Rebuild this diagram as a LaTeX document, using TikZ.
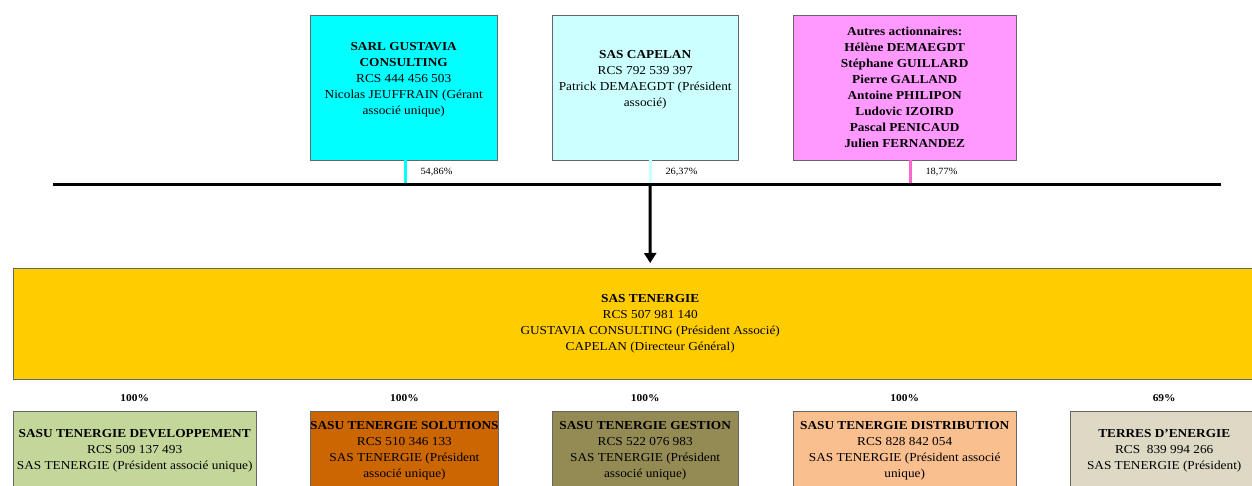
\documentclass[tikz,border=0pt]{standalone}
\usepackage{fontspec}
\setmainfont[FakeStretch=1.09]{Liberation Serif}
\usetikzlibrary{positioning,arrows.meta}
\definecolor{gustaviacyan}{HTML}{00FFFF}
\definecolor{capelanblue}{HTML}{CCFFFF}
\definecolor{autrespink}{HTML}{FF99FF}
\definecolor{autresstub}{HTML}{FF66CC}
\definecolor{tenergieyellow}{HTML}{FFCC00}
\definecolor{devgreen}{HTML}{C4D79B}
\definecolor{solorange}{HTML}{CC6600}
\definecolor{gestolive}{HTML}{948A54}
\definecolor{distpeach}{HTML}{FABF8F}
\definecolor{terresbeige}{HTML}{DDD9C4}

\begin{document}
\begin{tikzpicture}[x=1pt,y=-1pt,
  holder/.style={draw=black!60,anchor=north west,inner sep=0pt,align=center,
    font=\fontsize{12.2}{16}\selectfont},
  boxtext/.style={align=center,font=\fontsize{12.2}{16}\selectfont},
  stub/.style={line width=3pt},
  pct/.style={anchor=west,font=\fontsize{9.5}{10}\selectfont},
  subpct/.style={font=\bfseries\fontsize{10.5}{11}\selectfont}]
  \clip (0,0) rectangle (1252,486);

  \node[holder,fill=gustaviacyan,minimum width=187pt,minimum height=145pt] (gustavia) at (310,15) {};
  \node[boxtext] (gustaviatxt) at ([yshift=8pt]gustavia.center)
    {\textbf{SARL GUSTAVIA}\\\textbf{CONSULTING}\\RCS 444 456 503\\Nicolas JEUFFRAIN (Gérant\\associé unique)};
  \node[holder,fill=capelanblue,minimum width=186pt,minimum height=145pt] (capelan) at (552,15) {};
  \node[boxtext] (capelantxt) at ([yshift=8pt]capelan.center)
    {\textbf{SAS CAPELAN}\\RCS 792 539 397\\Patrick DEMAEGDT (Président\\associé)};
  \node[holder,fill=autrespink,minimum width=223pt,minimum height=145pt,font=\bfseries\fontsize{12.2}{16}\selectfont] (autres) at (793,15)
    {Autres actionnaires:\\Hélène DEMAEGDT\\Stéphane GUILLARD\\Pierre GALLAND\\Antoine PHILIPON\\Ludovic IZOIRD\\Pascal PENICAUD\\Julien FERNANDEZ};

  \coordinate (barL) at (53,185);
  \coordinate (barR) at (1221,185);
  \coordinate (split) at (650,185);

  \draw[stub,draw=gustaviacyan] ([xshift=2pt]gustavia.south) -- ([xshift=2pt]gustavia.south |- barL);
  \draw[stub,draw=capelanblue] ([xshift=5pt]capelan.south) -- ([xshift=5pt]capelan.south |- barL);
  \draw[stub,draw=autresstub] ([xshift=5.5pt]autres.south) -- ([xshift=5.5pt]autres.south |- barL);
  \node[pct] (pctgustavia) at (417,172) {54,86\%};
  \node[pct] (pctcapelan) at (662,172) {26,37\%};
  \node[pct] (pctautres) at (922,172) {18,77\%};

  \draw[line width=3pt] (barL) -- (barR);

  \node[holder,fill=tenergieyellow,minimum width=1274pt,minimum height=111pt] (tenergie) at (13,268)
    {\textbf{SAS TENERGIE}\\RCS 507 981 140\\GUSTAVIA CONSULTING (Président Associé)\\CAPELAN (Directeur Général)};
  \draw[line width=3pt,-{Triangle[length=10pt,width=12pt]},shorten >=5pt] (split) -- (tenergie.north);

  \node[holder,fill=devgreen,minimum width=243pt,minimum height=80pt] (dev) at (13,411)
    {\textbf{SASU TENERGIE DEVELOPPEMENT}\\RCS 509 137 493\\SAS TENERGIE (Président associé unique)};
  \node[holder,fill=solorange,minimum width=187pt,minimum height=80pt] (sol) at (310,411)
    {\textbf{SASU TENERGIE SOLUTIONS}\\RCS 510 346 133\\SAS TENERGIE (Président\\associé unique)};
  \node[holder,fill=gestolive,minimum width=186pt,minimum height=80pt] (gest) at (552,411)
    {\textbf{SASU TENERGIE GESTION}\\RCS 522 076 983\\SAS TENERGIE (Président\\associé unique)};
  \node[holder,fill=distpeach,minimum width=223pt,minimum height=80pt] (dist) at (793,411)
    {\textbf{SASU TENERGIE DISTRIBUTION}\\RCS 828 842 054\\SAS TENERGIE (Président associé\\unique)};
  \node[holder,fill=terresbeige,minimum width=188pt,minimum height=80pt] (terres) at (1070,411)
    {\textbf{TERRES D'ENERGIE}\\RCS\ \ 839 994 266\\SAS TENERGIE (Président)};

  \node[subpct,above=6pt of dev] (pctdev) {100\%};
  \node[subpct,above=6pt of sol] (pctsol) {100\%};
  \node[subpct,above=6pt of gest] (pctgest) {100\%};
  \node[subpct,above=6pt of dist] (pctdist) {100\%};
  \node[subpct,above=6pt of terres] (pctterres) {69\%};
\end{tikzpicture}
\end{document}
